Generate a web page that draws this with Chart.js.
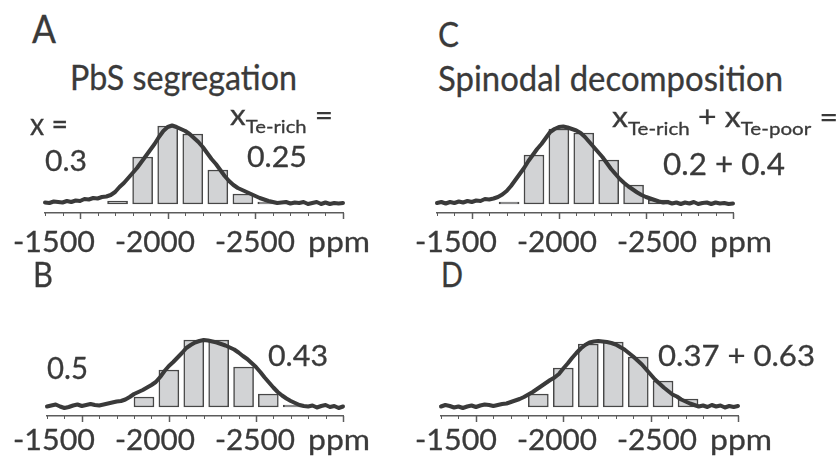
<!DOCTYPE html>
<html>
<head>
<meta charset="utf-8">
<script src="https://cdn.jsdelivr.net/npm/chart.js@4.4.1/dist/chart.umd.min.js"></script>
<style>
  html, body { margin: 0; padding: 0; background: #fff; }
  #fig { position: relative; width: 839px; height: 458px; overflow: hidden; font-family: Lato, sans-serif; color: #3a3a3a; }
  #fig canvas { position: absolute; }
  .t { position: absolute; white-space: nowrap; line-height: 1; transform-origin: 0 0; -webkit-text-stroke: 0.3px #3a3a3a; }
  .sub { font-size: 18px; vertical-align: -8px; }
  .bl { display: inline-block; width: 0; height: 0; vertical-align: baseline; }
</style>
</head>
<body>
<div id="fig">
  <canvas id="chartA" width="314" height="121" style="left:37px;top:104px"></canvas>
  <canvas id="chartC" width="312" height="121" style="left:429px;top:104px"></canvas>
  <canvas id="chartB" width="312" height="121" style="left:39px;top:307px"></canvas>
  <canvas id="chartD" width="313" height="121" style="left:433px;top:307px"></canvas>
</div>
<script>
// 125Te NMR spectra (ppm) with histogram of computed shifts

// spectrum sampling positions (ppm)
var ppm = [
  -1300, -1325, -1350, -1375, -1400, -1425, -1450, -1475, -1500, -1525,
  -1550, -1575, -1600, -1625, -1650, -1675, -1700, -1725, -1750, -1775,
  -1800, -1825, -1850, -1875, -1900, -1925, -1950, -1975, -2000, -2025,
  -2050, -2075, -2100, -2125, -2150, -2175, -2200, -2225, -2250, -2275,
  -2300, -2325, -2350, -2375, -2400, -2425, -2450, -2475, -2500, -2525,
  -2550, -2575, -2600, -2625, -2650, -2675, -2700, -2725, -2750, -2775,
  -2800, -2825, -2850, -2875, -2900, -2925, -2950, -2975, -3000
];

// histogram bin centres (ppm)
var binCenters = [-1714, -1857, -2000, -2143, -2286, -2429, -2571, -2714];

var barsA = [3, 47, 78, 70, 34, 10, 2, null];
var barsB = [null, 10, 37, 67, 67, 40, 13, 2];
var barsC = [2, 49, 75, 71, 44, 19, 4, null];
var barsD = [null, 13, 39, 63, 65, 50, 26, 8];

var specA = [
  1.5, 1, 2.5, 2, 1.5, 3, 2, 3.5, 3, 5,
  4.5, 6, 5.5, 7, 7.5, 9, 12, 17, 21, 26,
  31, 36, 42, 48, 54, 60, 67, 73, 77, 78.5,
  77, 75, 73, 70, 66, 62, 57, 51, 45, 40,
  34, 28, 23, 19, 16, 14, 12, 10, 8, 6,
  4.5, 3, 2, 1, 1.5, 2, 0.5, 1.5, 1, 2,
  0, 1, 2, 0, 1.5, 0, 1, 0.5, 1
];
var specB = [
  0.5, 1.5, 2.5, 0.5, -1, 0, 1.5, 2.5, 1, 2,
  3, 2, 1.5, 2.5, 3.5, 4.5, 5.5, 6, 7.5, 10,
  13, 15, 17, 19.5, 22, 25, 30, 36, 41, 45,
  49.5, 54, 59, 62, 64.5, 66, 67, 66.5, 65.5, 64.5,
  63, 61.5, 59.5, 57.5, 54.5, 51, 48, 44, 40, 35,
  29.5, 24.5, 19.5, 15, 11.5, 8.5, 6, 4, 2, 1,
  0.5, 1.5, -0.5, 1, 2, 0, 1, -1, 0.5
];
var specC = [
  1, 2, 0.5, 2, 1, 2.5, 1.5, 3, 2, 3.5,
  3, 5, 4.5, 5.5, 7, 9.5, 13, 18, 24, 30,
  36, 43, 49, 55, 60, 66, 72, 75, 77, 77.5,
  76.5, 75, 73.5, 71, 67, 62, 57, 52, 47, 41,
  35, 30, 25, 21, 17.5, 14.5, 11.5, 9, 7, 5.5,
  4, 2.5, 1.5, 2, 0.5, 1.5, 0, 1.5, 0.5, 2,
  0, 1, 1.5, 0, 1.5, 0.5, 1, 0, 0.5
];
var specD = [
  0.5, 2, 1, -0.5, 0.5, -1, 0.5, 1.5, 0, 1.5,
  2.5, 2, 1, 2, 3, 3.5, 5, 6.5, 8, 10,
  12.5, 15, 18, 21, 24, 27, 29.5, 33, 38.5, 43.5,
  49, 54, 58.5, 62, 64.5, 65.5, 66, 65.5, 65, 64,
  62.5, 60, 57.5, 54, 50.5, 46.5, 42.5, 37.5, 32.5, 27.5,
  23.5, 19.5, 16, 12.5, 10.5, 7.5, 5.5, 3.5, 2, 0.5,
  1.5, 0, 2, 0.5, 1.5, -0.5, 1, 0, 1
];

var axisColor = '#5c5c5c';

// short ticks every 100 ppm, longer ones at the labelled 500s
var tickMarks = {
  id: 'tickMarks',
  afterDraw: function (chart) {
    var sc = chart.scales.x, ctx = chart.ctx, y0 = chart.chartArea.bottom;
    ctx.save();
    ctx.strokeStyle = axisColor;
    sc.ticks.forEach(function (t) {
      var major = t.value % 500 === 0;
      var px = Math.round(sc.getPixelForValue(t.value)) + 0.5;
      ctx.lineWidth = major ? 1.5 : 1;
      ctx.beginPath();
      ctx.moveTo(px, y0);
      ctx.lineTo(px, y0 + (major ? 6 : 3));
      ctx.stroke();
    });
    ctx.restore();
  }
};

function makePanel(id, bars, spec) {
  var barData = binCenters.map(function (c, i) { return { x: c, y: bars[i] }; });
  var lineData = ppm.map(function (p, i) { return { x: p, y: spec[i] }; });
  return new Chart(id, {
    type: 'bar',
    data: {
      datasets: [
        {
          type: 'line', data: lineData, order: 0,
          borderColor: '#3a3a3a', borderWidth: 4, pointRadius: 0,
          borderJoinStyle: 'round', borderCapStyle: 'round', clip: false
        },
        {
          type: 'bar', data: barData, order: 1,
          backgroundColor: '#d2d3d5', borderColor: '#474747', borderWidth: 1.5,
          borderSkipped: false, barThickness: 20
        }
      ]
    },
    options: {
      responsive: false,
      animation: false,
      devicePixelRatio: 1,
      layout: { padding: { top: 20, bottom: 12, left: 8, right: 8 } },
      plugins: { legend: { display: false }, tooltip: { enabled: false } },
      scales: {
        x: {
          type: 'linear', min: -3000, max: -1300, reverse: true, offset: false,
          grid: { display: false, drawTicks: false, offset: false },
          border: { display: true, color: axisColor, width: 1.5 },
          ticks: { display: false, stepSize: 100 }
        },
        y: { display: false, min: -9, max: 80 }
      }
    },
    plugins: [tickMarks]
  });
}

makePanel('chartA', barsA, specA);
makePanel('chartB', barsB, specB);
makePanel('chartC', barsC, specC);
makePanel('chartD', barsD, specD);

// text: x = left edge, base = baseline, w = width in the reference
var texts = [
  { html: 'A', x: 32, base: 43, size: 38, w: 24 },
  { html: 'PbS segregation', x: 70, base: 90, size: 34, w: 227 },
  { html: 'x =', x: 30, base: 135, size: 30, w: 38 },
  { html: '0.3', x: 45, base: 171, size: 29, w: 42 },
  { html: 'x<span class="sub">Te-rich</span> =', x: 230, base: 125, size: 28, w: 103 },
  { html: '0.25', x: 247, base: 167, size: 28, w: 60 },
  { html: 'C', x: 438, base: 47, size: 35, w: 21 },
  { html: 'Spinodal decomposition', x: 438, base: 91, size: 34, w: 345 },
  { html: 'x<span class="sub">Te-rich</span> + x<span class="sub">Te-poor</span> =', x: 612, base: 127, size: 28, w: 226 },
  { html: '0.2 + 0.4', x: 663, base: 175, size: 30, w: 122 },
  { html: 'B', x: 33, base: 287, size: 35, w: 20 },
  { html: '0.5', x: 47, base: 379, size: 30, w: 41 },
  { html: '0.43', x: 268, base: 366, size: 29, w: 60 },
  { html: 'D', x: 441, base: 287, size: 35, w: 22 },
  { html: '0.37 + 0.63', x: 658, base: 366, size: 29, w: 157 }
];

// axis label rows under each panel
var tickLabels = ['-1500', '-2000', '-2500', 'ppm'];
var tickLabelX = [13, 115, 215, 308];
var tickLabelW = [82, 80, 80, 62];
[[0, 252], [402, 252], [0, 450], [402, 450]].forEach(function (o) {
  tickLabels.forEach(function (s, i) {
    texts.push({ html: s, x: tickLabelX[i] + o[0], base: o[1], size: 28, w: tickLabelW[i] });
  });
});

var fig = document.getElementById('fig');
texts.forEach(function (t) {
  var d = document.createElement('div');
  d.className = 't';
  d.style.fontSize = t.size + 'px';
  d.innerHTML = '<span class="bl"></span>' + t.html;
  fig.appendChild(d);
  var bl = d.firstChild.offsetTop;
  var w = d.getBoundingClientRect().width;
  d.style.left = t.x + 'px';
  d.style.top = (t.base - bl) + 'px';
  d.style.transform = 'scaleX(' + (t.w / w).toFixed(3) + ')';
});
</script>
</body>
</html>
